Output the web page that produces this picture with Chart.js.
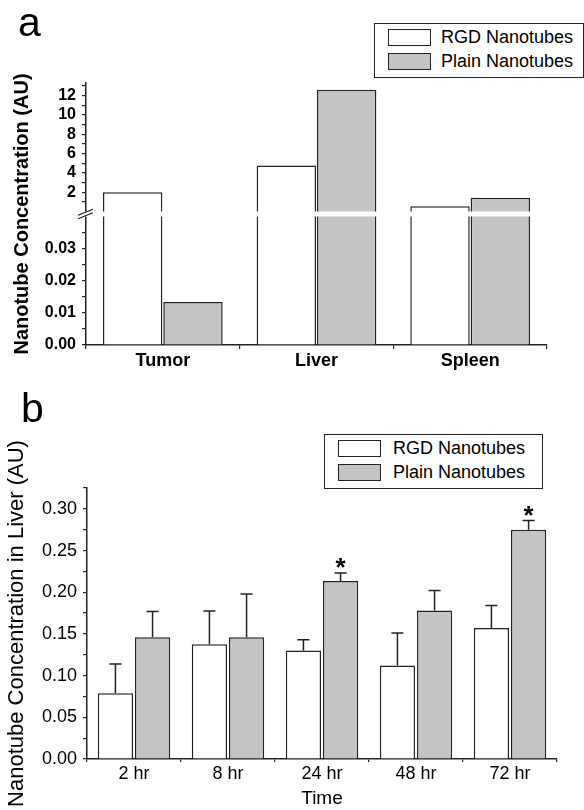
<!DOCTYPE html>
<html lang="en">
<head>
<meta charset="UTF-8">
<title>Nanotube Concentration</title>
<script src="https://cdn.jsdelivr.net/npm/chart.js"></script>
<style>
  body { margin: 0; background: #fff; font-family: "Liberation Sans", Arial, sans-serif; }
  #page { position: relative; width: 584px; height: 810px; overflow: hidden; }
  canvas { position: absolute; left: 0; }
  .panel-label { position: absolute; font-size: 41px; line-height: 40px; color: #000; }
  .legend { position: absolute; border: 1.3px solid #222; box-sizing: border-box; background: #fff; }
  .legend .sw { position: absolute; width: 43px; height: 17px; border: 1.3px solid #222; box-sizing: border-box; }
  .legend .txt { position: absolute; font-size: 18px; line-height: 18px; white-space: nowrap; color: #000; }
</style>
</head>
<body>
<div id="page">
  <canvas id="chartA" width="584" height="372" style="top:0"></canvas>
  <div class="panel-label" style="left:18px;top:2px">a</div>
  <div class="legend" id="legendA" style="left:374px;top:23px;width:210px;height:55px"></div>

  <canvas id="chartB" width="584" height="440" style="top:370px"></canvas>
  <div class="panel-label" style="left:21px;top:388px">b</div>
  <div class="legend" id="legendB" style="left:324px;top:434px;width:219px;height:55px"></div>
</div>

<script>
  // series names shared by both panels
  const seriesNames = ['RGD Nanotubes', 'Plain Nanotubes'];

  // panel a: organ distribution (broken y axis)
  const aCategories = ['Tumor', 'Liver', 'Spleen'];
  const aRgd = [2.0, 4.75, 0.54];
  const aPlain = [0.0134, 12.6, 1.42];
  const aLowerTicks = [0, 0.01, 0.02, 0.03];
  const aUpperTicks = [2, 4, 6, 8, 10, 12];

  // panel b: liver over time, one-sided error bars
  const bCategories = ['2 hr', '8 hr', '24 hr', '48 hr', '72 hr'];
  const bRgd = [0.079, 0.1375, 0.130, 0.112, 0.157];
  const bRgdErr = [0.035, 0.040, 0.013, 0.039, 0.027];
  const bPlain = [0.146, 0.146, 0.2135, 0.178, 0.275];
  const bPlainErr = [0.031, 0.052, 0.0097, 0.024, 0.011];
  const bPlainMarks = ['', '', '*', '', '*'];
  const bTicks = [0, 0.05, 0.10, 0.15, 0.20, 0.25, 0.30];

  const FONT = '"Liberation Sans", Arial, sans-serif';
  const FILLS = ['#ffffff', '#c4c4c4'];
  const INK = '#222';

  // lower segment 0..lowMax, upper segment 0..upMax, gap in pixels between them
  const AXIS_BREAK = { lowMax: 0.04, upMax: 13.3, gap: 5, split: 0.5 };

  class BrokenLinearScale extends Chart.LinearScale {
    segments() {
      const h = this.bottom - this.top - AXIS_BREAK.gap;
      const lowH = h * AXIS_BREAK.split;
      return { lowH, upH: h - lowH };
    }
    getPixelForValue(value) {
      const { lowH, upH } = this.segments();
      if (value <= AXIS_BREAK.lowMax) return this.bottom - value / AXIS_BREAK.lowMax * lowH;
      return this.bottom - lowH - AXIS_BREAK.gap - value / AXIS_BREAK.upMax * upH;
    }
    getValueForPixel(pixel) {
      const { lowH, upH } = this.segments();
      const d = this.bottom - pixel;
      if (d <= lowH) return d / lowH * AXIS_BREAK.lowMax;
      return Math.max(0, d - lowH - AXIS_BREAK.gap) / upH * AXIS_BREAK.upMax;
    }
  }
  BrokenLinearScale.id = 'brokenLinear';
  BrokenLinearScale.defaults = {};
  Chart.register(BrokenLinearScale);

  // majors plus half-step minor ticks inside [lo, hi]
  function withMinorTicks(majors, lo, hi) {
    const half = (majors[1] - majors[0]) / 2;
    const out = [];
    for (let k = -4; ; k++) {
      const v = +(majors[0] + k * half).toFixed(6);
      if (v > hi + 1e-9) break;
      if (v >= lo - 1e-9) out.push(v);
    }
    return out;
  }
  const isMajor = (v, majors) => majors.some(m => Math.abs(m - v) < 1e-9);

  const aTickValues = withMinorTicks(aLowerTicks, 0, 0.039).concat(withMinorTicks(aUpperTicks, 1, AXIS_BREAK.upMax));
  const bTickValues = withMinorTicks(bTicks, 0, 0.325);

  const axisBreakPlugin = {
    id: 'axisBreak',
    afterDatasetsDraw(chart) {
      const { ctx, chartArea } = chart;
      const gapBottom = chart.scales.y.getPixelForValue(AXIS_BREAK.lowMax);
      const gapTop = gapBottom - AXIS_BREAK.gap;
      ctx.save();
      ctx.fillStyle = '#fff';
      ctx.fillRect(chartArea.left - 2, gapTop, chartArea.right - chartArea.left + 2, AXIS_BREAK.gap);
      ctx.strokeStyle = INK;
      ctx.lineWidth = 1.2;
      const x = chartArea.left, mid = gapTop + AXIS_BREAK.gap / 2;
      [-1.7, 1.7].forEach(d => {
        ctx.beginPath();
        ctx.moveTo(x - 8, mid + d + 3);
        ctx.lineTo(x + 7, mid + d - 3);
        ctx.stroke();
      });
      ctx.restore();
    }
  };

  const errorBarPlugin = {
    id: 'errorBars',
    afterDatasetsDraw(chart) {
      const { ctx } = chart;
      const y = chart.scales.y;
      ctx.save();
      ctx.strokeStyle = INK;
      ctx.lineWidth = 1.5;
      chart.data.datasets.forEach((ds, di) => {
        chart.getDatasetMeta(di).data.forEach((bar, i) => {
          const top = y.getPixelForValue(ds.data[i] + ds.errors[i]);
          ctx.beginPath();
          ctx.moveTo(bar.x, bar.y);
          ctx.lineTo(bar.x, top);
          ctx.moveTo(bar.x - 6, top);
          ctx.lineTo(bar.x + 6, top);
          ctx.stroke();
          const mark = ds.marks ? ds.marks[i] : '';
          if (mark) {
            ctx.fillStyle = '#000';
            ctx.font = 'bold 26px ' + FONT;
            ctx.textAlign = 'center';
            ctx.textBaseline = 'alphabetic';
            ctx.fillText(mark, bar.x, top + 3);
          }
        });
      });
      ctx.restore();
    }
  };

  function barSet(i, data, extra) {
    return Object.assign({
      label: seriesNames[i],
      data: data,
      backgroundColor: FILLS[i],
      borderColor: INK,
      borderWidth: 1.5
    }, extra || {});
  }

  // panel a
  new Chart(document.getElementById('chartA'), {
    type: 'bar',
    data: {
      labels: aCategories,
      datasets: [barSet(0, aRgd), barSet(1, aPlain)]
    },
    options: {
      responsive: false,
      animation: false,
      events: [],
      layout: { padding: { top: 83, right: 37, left: 0, bottom: 0 } },
      plugins: { legend: { display: false }, tooltip: { enabled: false } },
      datasets: { bar: { categoryPercentage: 0.785, barPercentage: 0.985 } },
      scales: {
        x: {
          grid: { offset: true, drawOnChartArea: false, tickLength: 4, color: INK, lineWidth: 1.2 },
          border: { color: INK, width: 1.5 },
          ticks: { color: '#000', padding: 1, font: { family: FONT, size: 18, weight: 'bold' } },
          afterFit: s => { s.height = 27; }
        },
        y: {
          type: 'brokenLinear',
          min: 0,
          max: AXIS_BREAK.upMax,
          afterBuildTicks: s => { s.ticks = aTickValues.map(v => ({ value: v })); },
          grid: { drawOnChartArea: false, tickLength: 4, color: INK, lineWidth: 1.2 },
          border: { color: INK, width: 1.5 },
          ticks: {
            autoSkip: false,
            color: '#000',
            padding: 6,
            font: { family: FONT, size: 16, weight: 'bold' },
            callback: v => isMajor(v, aLowerTicks) && v <= AXIS_BREAK.lowMax ? v.toFixed(2)
              : (v > AXIS_BREAK.lowMax && isMajor(v, aUpperTicks) ? String(v) : '')
          },
          title: {
            display: true,
            text: 'Nanotube Concentration (AU)',
            color: '#000',
            font: { family: FONT, size: 20, weight: 'bold' },
            padding: { top: 10, bottom: 0 }
          },
          afterFit: s => { s.width = 86; }
        }
      }
    },
    plugins: [axisBreakPlugin]
  });

  // panel b
  new Chart(document.getElementById('chartB'), {
    type: 'bar',
    data: {
      labels: bCategories,
      datasets: [
        barSet(0, bRgd, { errors: bRgdErr }),
        barSet(1, bPlain, { errors: bPlainErr, marks: bPlainMarks })
      ]
    },
    options: {
      responsive: false,
      animation: false,
      events: [],
      layout: { padding: { top: 118, right: 27, left: 0, bottom: 0 } },
      plugins: { legend: { display: false }, tooltip: { enabled: false } },
      datasets: { bar: { categoryPercentage: 0.79, barPercentage: 0.95 } },
      scales: {
        x: {
          grid: { offset: true, drawOnChartArea: false, tickLength: 3, color: INK, lineWidth: 1.2 },
          border: { color: INK, width: 1.5 },
          ticks: { color: '#000', padding: 1, font: { family: FONT, size: 18 } },
          title: {
            display: true,
            text: 'Time',
            color: '#000',
            font: { family: FONT, size: 19 },
            padding: { top: 0, bottom: 0 }
          },
          afterFit: s => { s.height = 51; }
        },
        y: {
          min: 0,
          max: 0.325,
          afterBuildTicks: s => { s.ticks = bTickValues.map(v => ({ value: v })); },
          grid: { drawOnChartArea: false, tickLength: 4, color: INK, lineWidth: 1.2 },
          border: { color: INK, width: 1.5 },
          ticks: {
            autoSkip: false,
            color: '#000',
            padding: 6,
            font: { family: FONT, size: 18 },
            callback: v => isMajor(v, bTicks) ? v.toFixed(2) : ''
          },
          title: {
            display: true,
            text: 'Nanotube Concentration in Liver (AU)',
            color: '#000',
            font: { family: FONT, size: 22 },
            padding: { top: 4, bottom: 0 }
          },
          afterFit: s => { s.width = 87; }
        }
      }
    },
    plugins: [errorBarPlugin]
  });

  // boxed legends, two rows
  function buildLegend(id, rowTops, textLeft) {
    const box = document.getElementById(id);
    seriesNames.forEach((name, i) => {
      const sw = document.createElement('div');
      sw.className = 'sw';
      sw.style.left = '13px';
      sw.style.top = rowTops[i] + 'px';
      sw.style.background = FILLS[i];
      box.appendChild(sw);
      const t = document.createElement('div');
      t.className = 'txt';
      t.style.left = textLeft + 'px';
      t.style.top = (rowTops[i] - 1) + 'px';
      t.textContent = name;
      box.appendChild(t);
    });
  }
  buildLegend('legendA', [5, 29], 66);
  buildLegend('legendB', [5, 29], 68);
</script>
</body>
</html>
